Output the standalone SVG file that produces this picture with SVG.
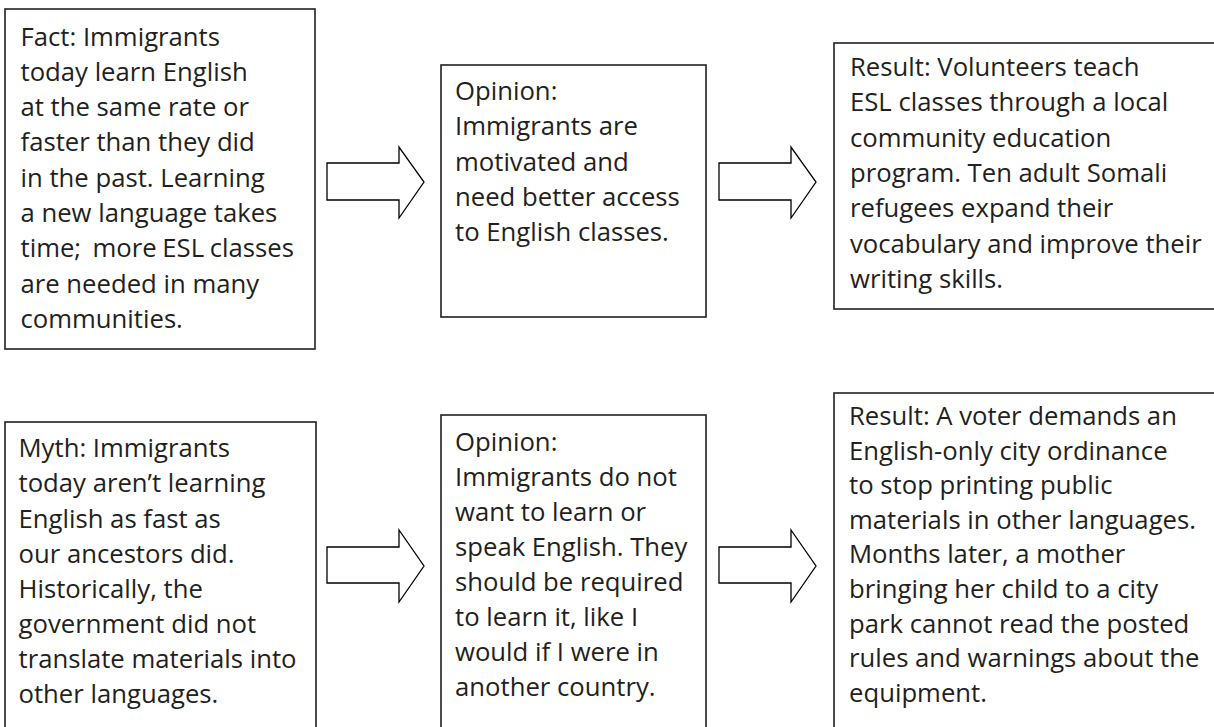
<svg xmlns="http://www.w3.org/2000/svg" width="1214" height="727" viewBox="0 0 1214 727">
<style>
.box{fill:#fff;stroke:#231f20;stroke-width:1.6}
.arr{fill:#fff;stroke:#000;stroke-width:1.3;stroke-linejoin:miter}
.t{font-family:"Open Sans","Noto Sans",sans-serif;font-size:25.7px;fill:#231f20}
</style>
<rect width="1214" height="727" fill="#fff"/>
<g id="connectors">
<polygon class="arr" points="327,163 399,163 399,147 424,182 399,218 399,200 327,200"/>
<polygon class="arr" points="719,163 791,163 791,147 816,182 791,218 791,200 719,200"/>
<polygon class="arr" points="327,547 399,547 399,530 424,566 399,602 399,583 327,583"/>
<polygon class="arr" points="719,547 791,547 791,530 816,566 791,602 791,583 719,583"/>
</g>
<g id="fact">
<rect class="box" x="5" y="9" width="310" height="340"/>
<text class="t" xml:space="preserve"><tspan x="20.5" y="45.5">Fact: Immigrants</tspan><tspan x="20.5" y="80.8">today learn English</tspan><tspan x="20.5" y="116.1">at the same rate or</tspan><tspan x="20.5" y="151.4">faster than they did</tspan><tspan x="20.5" y="186.7">in the past. Learning</tspan><tspan x="20.5" y="222">a new language takes</tspan><tspan x="20.5" y="257.3" word-spacing="-1">time;  more ESL classes</tspan><tspan x="20.5" y="292.6">are needed in many</tspan><tspan x="20.5" y="327.9">communities.</tspan></text>
</g>
<g id="opinion1">
<rect class="box" x="441" y="65" width="265" height="252"/>
<text class="t"><tspan x="455" y="100">Opinion:</tspan><tspan x="455" y="135.3">Immigrants are</tspan><tspan x="455" y="170.6">motivated and</tspan><tspan x="455" y="205.9">need better access</tspan><tspan x="455" y="241.2">to English classes.</tspan></text>
</g>
<g id="result1">
<rect class="box" x="834" y="43" width="400" height="266"/>
<text class="t"><tspan x="850" y="75.7">Result: Volunteers teach</tspan><tspan x="850" y="111.1">ESL classes through a local</tspan><tspan x="850" y="146.5">community education</tspan><tspan x="850" y="181.9">program. Ten adult Somali</tspan><tspan x="850" y="217.3">refugees expand their</tspan><tspan x="850" y="252.7">vocabulary and improve their</tspan><tspan x="850" y="288.1">writing skills.</tspan></text>
</g>
<g id="myth">
<rect class="box" x="5" y="422" width="311" height="330"/>
<text class="t"><tspan x="18.5" y="457.3">Myth: Immigrants</tspan><tspan x="18.5" y="492.4">today aren’t learning</tspan><tspan x="18.5" y="527.5">English as fast as</tspan><tspan x="18.5" y="562.6">our ancestors did.</tspan><tspan x="18.5" y="597.7">Historically, the</tspan><tspan x="18.5" y="632.8">government did not</tspan><tspan x="18.5" y="667.9">translate materials into</tspan><tspan x="18.5" y="703">other languages.</tspan></text>
</g>
<g id="opinion2">
<rect class="box" x="441" y="415" width="265" height="330"/>
<text class="t"><tspan x="455" y="450.7">Opinion:</tspan><tspan x="455" y="485.7">Immigrants do not</tspan><tspan x="455" y="520.7">want to learn or</tspan><tspan x="455" y="555.7">speak English. They</tspan><tspan x="455" y="590.7">should be required</tspan><tspan x="455" y="625.7">to learn it, like I</tspan><tspan x="455" y="660.7">would if I were in</tspan><tspan x="455" y="695.7">another country.</tspan></text>
</g>
<g id="result2">
<rect class="box" x="834" y="393" width="400" height="400"/>
<text class="t"><tspan x="849" y="425">Result: A voter demands an</tspan><tspan x="849" y="459.6">English-only city ordinance</tspan><tspan x="849" y="494.2">to stop printing public</tspan><tspan x="849" y="528.8">materials in other languages.</tspan><tspan x="849" y="563.4">Months later, a mother</tspan><tspan x="849" y="598">bringing her child to a city</tspan><tspan x="849" y="632.6">park cannot read the posted</tspan><tspan x="849" y="667.2">rules and warnings about the</tspan><tspan x="849" y="701.8">equipment.</tspan></text>
</g>
</svg>
